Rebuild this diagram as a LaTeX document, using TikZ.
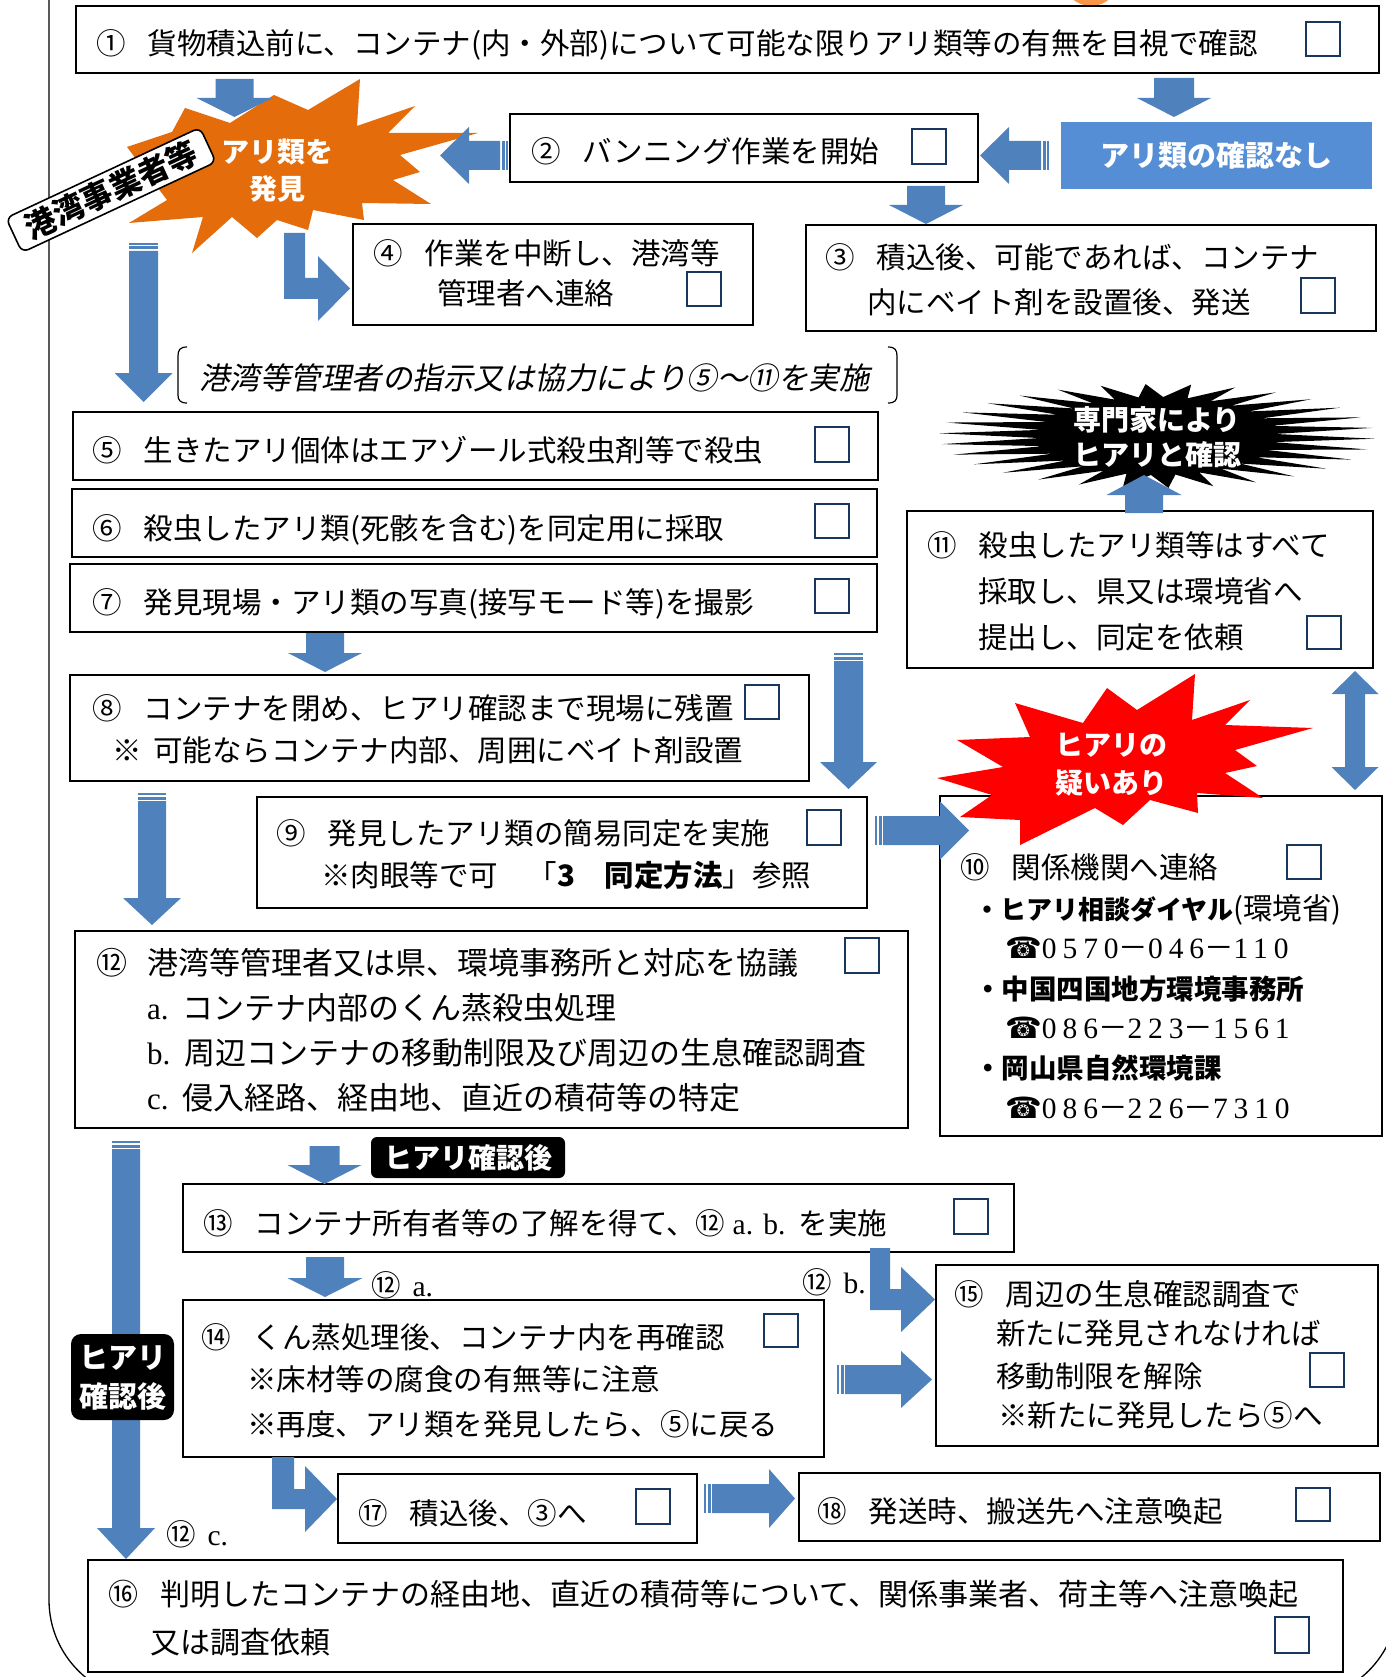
\documentclass[tikz,border=0pt]{standalone}
\usepackage{fontspec}
\setmainfont{Noto Sans CJK JP}
\newfontfamily\jpit{Noto Sans CJK JP}[FakeSlant=0.2]
\newfontfamily\lser{Liberation Serif}
\newfontfamily\lserw{Liberation Serif}[LetterSpace=20]
\newfontfamily\djv{DejaVu Sans}
\definecolor{ab}{RGB}{79,129,189}
\definecolor{lb}{RGB}{85,142,213}
\definecolor{org}{RGB}{228,108,10}
\definecolor{cbn}{RGB}{23,55,94}
\definecolor{orc}{RGB}{247,150,70}
\newcommand\FSm{\fontsize{29.5}{32}\selectfont}
\newcommand\FSw{\fontsize{31}{33}\selectfont}
\newcommand\Gap{\hspace{0.75em}}
\newcommand\BX[5]{\node[bx, anchor=north west, minimum width={(#4-#2)*1pt}, minimum height={(#5-#3)*1pt}] (#1) at (#2,#3) {};}
\newcommand\CB[5]{\node[cb, anchor=north west, minimum width={(#4-#2)*1pt}, minimum height={(#5-#3)*1pt}] (#1) at (#2,#3) {};}
% down/up arrow: xc, ytail, ybase, ytip, half shaft, half head
\newcommand\ArrD[6]{\fill[ab] ({#1-#5},#2) -- ({#1+#5},#2) -- ({#1+#5},#3) -- ({#1+#6},#3) -- (#1,#4) -- ({#1-#6},#3) -- ({#1-#5},#3) -- cycle;}
\newcommand\ArrDS[6]{\fill[ab] ({#1-#5},#2) rectangle ({#1+#5},{#2+2});
  \fill[ab] ({#1-#5},{#2+3.5}) rectangle ({#1+#5},{#2+6.5});
  \ArrD{#1}{#2+8}{#3}{#4}{#5}{#6}}
% right/left arrow: yc, xtail, xbase, xtip, half shaft, half head
\newcommand\ArrR[6]{\fill[ab] (#2,{#1-#5}) -- (#3,{#1-#5}) -- (#3,{#1-#6}) -- (#4,#1) -- (#3,{#1+#6}) -- (#3,{#1+#5}) -- (#2,{#1+#5}) -- cycle;}
\newcommand\ArrRS[6]{\fill[ab] (#2,{#1-#5}) rectangle ({#2+2},{#1+#5});
  \fill[ab] ({#2+3.5},{#1-#5}) rectangle ({#2+6.5},{#1+#5});
  \ArrR{#1}{#2+8}{#3}{#4}{#5}{#6}}
\newcommand\ArrLS[6]{\fill[ab] (#2,{#1-#5}) rectangle ({#2-2},{#1+#5});
  \fill[ab] ({#2-3.5},{#1-#5}) rectangle ({#2-6.5},{#1+#5});
  \ArrR{#1}{#2-8}{#3}{#4}{#5}{#6}}
\begin{document}
\begin{tikzpicture}[x=1pt,y=-1pt,
  bx/.style={draw, line width=1.6pt, fill=white, inner sep=0pt, outer sep=0pt},
  cb/.style={draw=cbn, line width=2.4pt, fill=white, inner sep=0pt, outer sep=0pt},
  t/.style={anchor=west, inner sep=0pt, font=\FSm, text height=26pt, text depth=3.5pt},
  tw/.style={t, font=\FSw},
  wt/.style={inner sep=0pt, text=white, font=\bfseries\fontsize{28}{30}\selectfont, text height=24.6pt, text depth=3.4pt},
  bt/.style={t, font=\bfseries\fontsize{27.5}{30}\selectfont},
]
\useasboundingbox (0,0) rectangle (1385,1677);
\fill[white] (0,0) rectangle (1385,1677);
% outer frame
\draw[line width=1.3pt, rounded corners=100pt] (49,-200) rectangle (1398,1700);
\node[circle, fill=orc, minimum size=56pt, inner sep=0pt] (topc) at (1091,-22) {};

% boxes
\BX{b1}{76}{6}{1379}{73}
\BX{b2}{510}{114}{978}{182}
\BX{b3}{806}{225}{1376}{331}
\BX{b4}{353}{224}{753}{325}
\BX{b5}{73}{412}{878}{480}
\BX{b6}{72}{489}{877}{557}
\BX{b7}{70}{564}{877}{632}
\BX{b8}{70}{675}{809}{781}
\BX{b9}{257}{797}{867}{908}
\BX{b11}{907}{511}{1373}{668}
\BX{b10}{940}{796}{1382}{1136}
\BX{b12}{75}{931}{908}{1128}
\BX{b13}{183}{1184}{1014}{1252}
\BX{b14}{183}{1300}{824}{1457}
\BX{b15}{936}{1265}{1378}{1446}
\BX{b17}{338}{1474}{697}{1543}
\BX{b18}{799}{1473}{1380}{1541}
\BX{b16}{88}{1560}{1343}{1672}
\node[fill=lb, anchor=north west, minimum width=311pt, minimum height=67pt, inner sep=0pt, outer sep=0pt] (nf) at (1061,122) {};
\node[wt, font=\bfseries\fontsize{29}{30}\selectfont] (nft) at (nf.center) {アリ類の確認なし};

% checkboxes
\CB{c1}{1306}{22}{1340}{56}
\CB{c2}{912}{129}{946}{164}
\CB{c3}{1301}{278}{1335}{313}
\CB{c4}{687}{272}{721}{306}
\CB{c5}{815}{427}{849}{462}
\CB{c6}{815}{504}{849}{538}
\CB{c7}{815}{579}{849}{613}
\CB{c8}{745}{685}{779}{719}
\CB{c9}{807}{810}{841}{845}
\CB{c11}{1307}{616}{1341}{649}
\CB{c10}{1287}{845}{1321}{879}
\CB{c12}{845}{938}{879}{973}
\CB{c13}{954}{1199}{988}{1234}
\CB{c14}{764}{1314}{798}{1347}
\CB{c15}{1310}{1353}{1344}{1387}
\CB{c17}{636}{1489}{670}{1524}
\CB{c18}{1296}{1488}{1330}{1521}
\CB{c16}{1275}{1617}{1309}{1653}

% texts
\node[t] (t1) at (96,43) {①\Gap 貨物積込前に、コンテナ(内・外部)について可能な限りアリ類等の有無を目視で確認};
\node[t] (t2) at (531,151) {②\Gap バンニング作業を開始};
\node[t] (t3a) at (825,257) {③\Gap 積込後、可能であれば、コンテナ};
\node[t] (t3b) at (867,302) {内にベイト剤を設置後、発送};
\node[t] (t4a) at (373,253) {④\Gap 作業を中断し、港湾等};
\node[t] (t4b) at (437,293) {管理者へ連絡};
\node[t, font=\jpit\fontsize{30.5}{32}\selectfont] (tit) at (199,378) {港湾等管理者の指示又は協力により⑤～⑪を実施};
\node[t] (t5) at (92,450) {⑤\Gap 生きたアリ個体はエアゾール式殺虫剤等で殺虫};
\node[t] (t6) at (92,528) {⑥\Gap 殺虫したアリ類(死骸を含む)を同定用に採取};
\node[t] (t7) at (92,602) {⑦\Gap 発見現場・アリ類の写真(接写モード等)を撮影};
\node[t] (t8a) at (92,708) {⑧\Gap コンテナを閉め、ヒアリ確認まで現場に残置};
\node[t] (t8b) at (112,750) {※\hspace{0.4em}可能ならコンテナ内部、周囲にベイト剤設置};
\node[t] (t9a) at (276,833) {⑨\Gap 発見したアリ類の簡易同定を実施};
\node[t] (t9b) at (321,875) {※肉眼等で可　「{\bfseries 3　同定方法}」参照};
\node[t] (t11a) at (927,545) {⑪\Gap 殺虫したアリ類等はすべて};
\node[t] (t11b) at (978,591) {採取し、県又は環境省へ};
\node[t] (t11c) at (978,637) {提出し、同定を依頼};
\node[t] (t10a) at (960,867) {⑩\Gap 関係機関へ連絡};
\node[t] (t10b) at (974,908) {{\bfseries\fontsize{26}{28}\selectfont ・ヒアリ相談ダイヤル}(環境省)};
\node[t] (t10c) at (1005,947) {{\djv ☎}{\lserw 0570}－{\lserw 046}－{\lserw 110}};
\node[bt] (t10d) at (974,988) {・中国四国地方環境事務所};
\node[t] (t10e) at (1005,1027) {{\djv ☎}{\lserw 086}－{\lserw 223}－{\lserw 1561}};
\node[bt] (t10f) at (974,1067) {・岡山県自然環境課};
\node[t] (t10g) at (1005,1107) {{\djv ☎}{\lserw 086}－{\lserw 226}－{\lserw 7310}};
\node[tw] (t12) at (96,963) {⑫\hspace{0.65em}港湾等管理者又は県、環境事務所と対応を協議};
\node[tw] (t12a) at (147,1008) {{\lser a.}\hspace{0.45em}コンテナ内部のくん蒸殺虫処理};
\node[tw] (t12b) at (147,1053) {{\lser b.}\hspace{0.45em}周辺コンテナの移動制限及び周辺の生息確認調査};
\node[tw] (t12c) at (147,1098) {{\lser c.}\hspace{0.45em}侵入経路、経由地、直近の積荷等の特定};
\node[t] (t13) at (203,1223) {⑬\Gap コンテナ所有者等の了解を得て、⑫\hspace{0.25em}{\lser a.\hspace{0.35em}b.}\hspace{0.45em}を実施};
\node[t] (la) at (371,1285) {⑫\hspace{0.4em}{\lser a.}};
\node[t] (lb) at (802,1282) {⑫\hspace{0.4em}{\lser b.}};
\node[t] (lc) at (166,1534) {⑫\hspace{0.4em}{\lser c.}};
\node[t] (t14a) at (201,1337) {⑭\Gap くん蒸処理後、コンテナ内を再確認};
\node[t] (t14b) at (247,1379) {※床材等の腐食の有無等に注意};
\node[t] (t14c) at (247,1424) {※再度、アリ類を発見したら、⑤に戻る};
\node[t] (t15a) at (954,1294) {⑮\Gap 周辺の生息確認調査で};
\node[t] (t15b) at (996,1333) {新たに発見されなければ};
\node[t] (t15c) at (996,1376) {移動制限を解除};
\node[t] (t15d) at (998,1415) {※新たに発見したら⑤へ};
\node[t] (t17) at (358,1513) {⑰\Gap 積込後、③へ};
\node[t] (t18) at (817,1511) {⑱\Gap 発送時、搬送先へ注意喚起};
\node[t, font=\fontsize{30}{32}\selectfont] (t16a) at (108,1594) {⑯\Gap 判明したコンテナの経由地、直近の積荷等について、関係事業者、荷主等へ注意喚起};
\node[t, font=\fontsize{30}{32}\selectfont] (t16b) at (150,1642) {又は調査依頼};

% brackets round the italic line
\draw[line width=1.2pt] (187,347) .. controls (180,347) and (178,350) .. (178,356) -- (178,395) .. controls (178,400) and (180,403) .. (187,403);
\draw[line width=1.2pt] (888,347) .. controls (895,347) and (897,350) .. (897,356) -- (897,395) .. controls (897,400) and (895,403) .. (888,403);

% orange starburst
\fill[org] (360,79) -- (357,126) -- (415,106) -- (388,133) -- (478,133) -- (400,155) -- (420,172) -- (393,180) -- (431,204) -- (362,203) -- (364,220) -- (313,210) -- (308,230) -- (277,220) -- (257,238) -- (232,217) -- (192,253) -- (203,217) -- (129,223) -- (167,200) -- (127,147) -- (172,132) -- (185,108) -- (230,123) -- (274,95) -- (308,110) -- cycle;
\node[wt] (os1) at (277,152) {アリ類を};
\node[wt] (os2) at (277,189) {発見};

% red starburst
\fill[red] (1195,674) -- (1192,720) -- (1250,700) -- (1225,725) -- (1313,728) -- (1235,750) -- (1257,766) -- (1225,773) -- (1263,798) -- (1197,793) -- (1198,813) -- (1150,800) -- (1123,825) -- (1095,808) -- (1020,845) -- (1020,820) -- (960,817) -- (992,795) -- (937,778) -- (1003,767) -- (957,740) -- (1030,737) -- (1015,703) -- (1083,723) -- (1107,688) -- (1137,710) -- cycle;
\node[wt] (rs1) at (1111,745) {ヒアリの};
\node[wt] (rs2) at (1111,783) {疑いあり};

% black starburst
\fill[black] plot[samples=61, domain=0:60, variable=\t] ({1157+ifthenelse(mod(round(\t),2)==0,218,118)*cos(\t*6+3)}, {436+ifthenelse(mod(round(\t),2)==0,52,39)*sin(\t*6+3)}) -- cycle;
\node[wt] (bs1) at (1157,420) {専門家により};
\node[wt] (bs2) at (1157,455) {ヒアリと確認};

% block arrows
\ArrD{234.5}{79}{98}{117}{19}{38}
\ArrD{1174}{78}{98}{117}{20}{37}
\ArrLS{155.5}{1049}{1009}{980}{14.5}{28.5}
\ArrLS{155.5}{508}{469}{440}{14.5}{28.5}
\ArrD{926}{186}{205}{224}{19}{37}
\fill[ab] (284,233) -- (305,233) -- (305,278) -- (318,278) -- (318,256) -- (350,288.5) -- (318,321) -- (318,299) -- (284,299) -- cycle;
\ArrDS{143.5}{243}{373}{402}{14.5}{29}
\ArrD{325}{633}{653}{672}{19}{37}
\ArrDS{848.5}{653}{762}{789}{14.5}{28.5}
\ArrDS{152}{793}{898}{925}{14}{29}
\ArrRS{830.5}{875}{940}{969}{14.5}{29}
\ArrD{1144}{513}{495}{475}{19}{37.5}
\fill[ab] (1355,671) -- (1378.5,694) -- (1365,694) -- (1365,767) -- (1378.5,767) -- (1355,790) -- (1331.5,767) -- (1345,767) -- (1345,694) -- (1331.5,694) -- cycle;
\ArrDS{126}{1141}{1528}{1559}{14}{29}
\ArrD{324.5}{1146}{1165}{1184}{15}{37}
\ArrD{325}{1257}{1278}{1297}{19}{37.5}
\fill[ab] (870,1248) -- (890,1248) -- (890,1289) -- (901,1289) -- (901,1267) -- (935,1299.5) -- (901,1332) -- (901,1310) -- (870,1310) -- cycle;
\ArrRS{1379.5}{837}{901}{932}{14.5}{28.5}
\fill[ab] (272,1457) -- (294,1457) -- (294,1489) -- (305,1489) -- (305,1466) -- (337,1499) -- (305,1532) -- (305,1509) -- (272,1509) -- cycle;
\ArrRS{1498.5}{704}{769}{795}{14.5}{29.5}

% tags
\node[draw, line width=1.6pt, fill=white, rounded corners=7pt, rotate=25, minimum width=214pt, minimum height=38pt, inner sep=0pt, font=\bfseries\fontsize{31}{32}\selectfont] (tag1) at (111,190) {港湾事業者等};
\node[fill=black, rounded corners=6pt, minimum width=194pt, minimum height=41pt, wt] (tagh) at (468,1157.5) {ヒアリ確認後};
\node[fill=black, rounded corners=10pt, minimum width=103pt, minimum height=86pt, inner sep=0pt] (tagv) at (122.5,1377) {};
\node[wt, font=\bfseries\fontsize{29}{30}\selectfont] (tagv1) at (122.5,1358) {ヒアリ};
\node[wt, font=\bfseries\fontsize{29}{30}\selectfont] (tagv2) at (122.5,1397) {確認後};
\end{tikzpicture}
\end{document}
